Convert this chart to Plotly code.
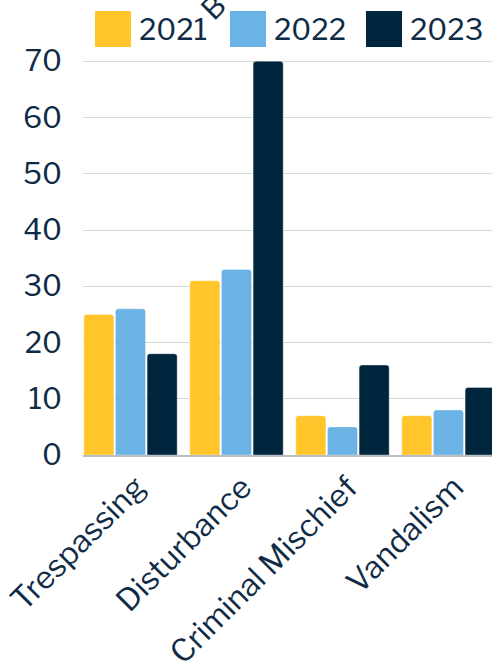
import plotly.graph_objects as go

# Incident counts by category and year
categories = ["Trespassing", "Disturbance", "Criminal Mischief", "Vandalism"]
years = ["2021", "2022", "2023"]
counts_2021 = [25, 31, 7, 7]
counts_2022 = [26, 33, 5, 8]
counts_2023 = [18, 70, 16, 12]
y_ticks = [0, 10, 20, 30, 40, 50, 60, 70]

colors = ["#FFC52B", "#6CB3E5", "#00263E"]
text_color = "#0F2B46"
font_family = "Libre Franklin, Open Sans, sans-serif"

W, H = 492, 664
L, R, T, B = 83, 0, 50, 209
plot_w = W - L - R
plot_h = H - T - B

fig = go.Figure()
for name, vals, col in zip(years, [counts_2021, counts_2022, counts_2023], colors):
    fig.add_trace(go.Bar(
        name=name, x=categories, y=vals,
        marker=dict(color=col, line=dict(color="rgba(255,255,255,0.6)", width=0.6)),
        showlegend=False,
    ))

# pixel -> paper helpers for the hand-built legend
def px_x(px):
    return (px - L) / plot_w

def px_y(py):
    return (H - B - py) / plot_h

shapes = []
annotations = []
legend_x = [95, 230, 366]
for name, col, x0 in zip(years, colors, legend_x):
    shapes.append(dict(type="rect", xref="paper", yref="paper",
                       x0=px_x(x0), x1=px_x(x0 + 36), y0=px_y(47), y1=px_y(11),
                       fillcolor=col, line=dict(width=0), layer="above"))
    annotations.append(dict(xref="paper", yref="paper", x=px_x(x0 + 42), y=px_y(29),
                            xanchor="left", yanchor="middle", showarrow=False,
                            text=name, font=dict(size=29, color=text_color, family=font_family)))

# title fragment running off the top edge
annotations.append(dict(xref="paper", yref="paper", x=px_x(213), y=px_y(7),
                        xanchor="center", yanchor="middle", showarrow=False, textangle=-45,
                        text="B", font=dict(size=29, color=text_color, family=font_family)))

bargap = 0.104
fig.update_layout(
    width=W, height=H,
    margin=dict(l=L, r=R, t=T, b=B, pad=0, autoexpand=False),
    paper_bgcolor="white", plot_bgcolor="white",
    barmode="group", bargap=bargap, bargroupgap=0.05,
    barcornerradius=3,
    font=dict(family=font_family, color=text_color, size=29),
    shapes=shapes, annotations=annotations,
    xaxis=dict(
        range=[-0.5 + bargap / 2, -0.5 + bargap / 2 + plot_w / 106],
        tickangle=-45, tickfont=dict(size=31, color=text_color),
        ticklabelshift=6, automargin=False,
        showline=True, linecolor="#B9BEC5", linewidth=1.5,
        showgrid=False, ticks="",
    ),
    yaxis=dict(
        range=[0, 72], tickvals=y_ticks, automargin=False,
        tickfont=dict(size=29, color=text_color),
        showgrid=True, gridcolor="#D5D9DE", gridwidth=1,
        zeroline=False, showline=False, ticks="", ticklabelstandoff=20,
    ),
)

fig.write_html("out.html")
